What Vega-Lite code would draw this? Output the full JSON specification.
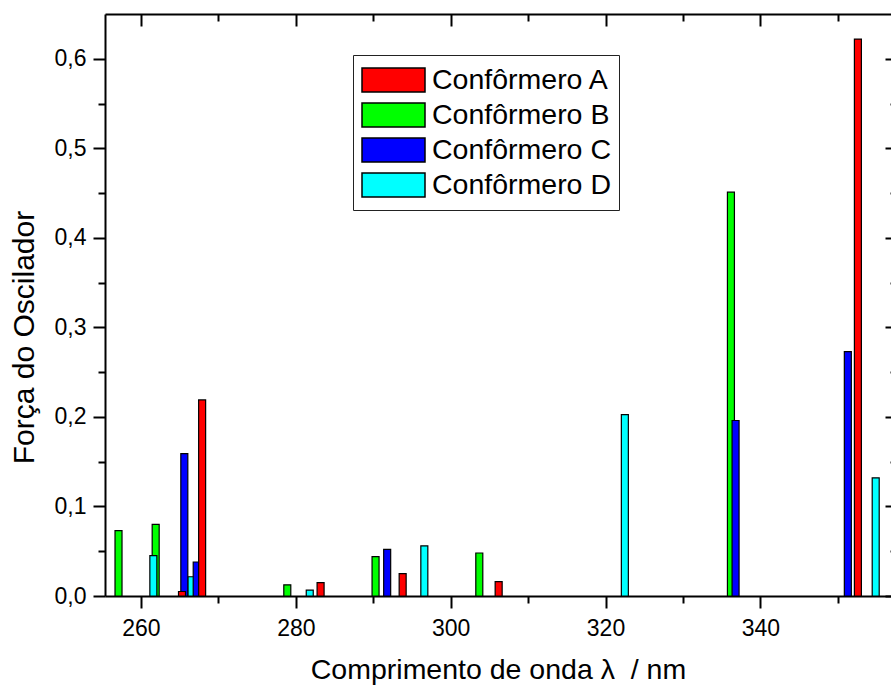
{
  "$schema": "https://vega.github.io/schema/vega-lite/v6.json",
  "autosize": "none",
  "width": 786,
  "height": 582,
  "padding": {"left": 105, "top": 14, "right": 0, "bottom": 90},
  "background": "white",
  "config": {
    "font": "Liberation Sans",
    "view": {"stroke": null},
    "axis": {"grid": false, "domainColor": "black", "domainWidth": 2, "tickColor": "black", "tickWidth": 2, "labelColor": "black", "titleColor": "black", "labelFont": "Liberation Sans", "titleFont": "Liberation Sans", "titleFontWeight": "normal"},
    "legend": {"labelFont": "Liberation Sans"}
  },
  "data": {
    "values": [
      {"conf": "Confôrmero B", "wl": 257.1, "f": 0.073},
      {"conf": "Confôrmero B", "wl": 261.9, "f": 0.080},
      {"conf": "Confôrmero B", "wl": 278.9, "f": 0.0125},
      {"conf": "Confôrmero B", "wl": 290.3, "f": 0.044},
      {"conf": "Confôrmero B", "wl": 303.7, "f": 0.048},
      {"conf": "Confôrmero B", "wl": 336.2, "f": 0.451},
      {"conf": "Confôrmero D", "wl": 261.6, "f": 0.045},
      {"conf": "Confôrmero D", "wl": 266.5, "f": 0.0215},
      {"conf": "Confôrmero D", "wl": 281.8, "f": 0.0065},
      {"conf": "Confôrmero D", "wl": 296.6, "f": 0.056},
      {"conf": "Confôrmero D", "wl": 322.5, "f": 0.2025},
      {"conf": "Confôrmero D", "wl": 354.9, "f": 0.132},
      {"conf": "Confôrmero C", "wl": 265.6, "f": 0.159},
      {"conf": "Confôrmero C", "wl": 267.2, "f": 0.038},
      {"conf": "Confôrmero C", "wl": 291.8, "f": 0.052},
      {"conf": "Confôrmero C", "wl": 336.8, "f": 0.196},
      {"conf": "Confôrmero C", "wl": 351.3, "f": 0.273},
      {"conf": "Confôrmero A", "wl": 265.3, "f": 0.005},
      {"conf": "Confôrmero A", "wl": 267.9, "f": 0.219},
      {"conf": "Confôrmero A", "wl": 283.2, "f": 0.015},
      {"conf": "Confôrmero A", "wl": 293.8, "f": 0.025},
      {"conf": "Confôrmero A", "wl": 306.2, "f": 0.016},
      {"conf": "Confôrmero A", "wl": 352.6, "f": 0.622}
    ]
  },
  "layer": [
    {
      "mark": {"type": "bar", "size": 7, "stroke": "black", "strokeWidth": 1.2, "opacity": 1},
      "encoding": {
        "x": {
          "field": "wl", "type": "quantitative",
          "scale": {"domain": [256, 356.23], "nice": false, "zero": false},
          "axis": {
            "orient": "bottom",
            "title": "Comprimento de onda λ\u00a0 / nm",
            "titleFontSize": 28.5,
            "titlePadding": 15,
            "values": [260, 270, 280, 290, 300, 310, 320, 330, 340, 350],
            "labelExpr": "datum.value % 20 == 0 ? datum.value : ''",
            "labelFontSize": 23,
            "labelPadding": 9,
            "tickSize": {"condition": {"test": "datum.value % 20 == 0", "value": 12}, "value": 7}
          }
        },
        "y": {
          "field": "f", "type": "quantitative", "stack": null,
          "scale": {"domain": [0, 0.65], "nice": false},
          "axis": {
            "orient": "left",
            "title": "Força do Oscilador",
            "titleFontSize": 30,
            "titlePadding": 15,
            "titleY": 323,
            "values": [0, 0.05, 0.1, 0.15, 0.2, 0.25, 0.3, 0.35, 0.4, 0.45, 0.5, 0.55, 0.6],
            "labelExpr": "abs(datum.value*10 - round(datum.value*10)) < 0.001 ? replace(format(datum.value, '.1f'), '.', ',') : ''",
            "labelFontSize": 23,
            "labelPadding": 7,
            "tickSize": {"condition": {"test": "abs(datum.value*10 - round(datum.value*10)) < 0.001", "value": 12}, "value": 7}
          }
        },
        "color": {
          "field": "conf", "type": "nominal",
          "scale": {"domain": ["Confôrmero A", "Confôrmero B", "Confôrmero C", "Confôrmero D"], "range": ["#FF0000", "#00FF00", "#0000FF", "#00FFFF"]},
          "legend": {
            "title": null,
            "orient": "none",
            "legendX": 248,
            "legendY": 41,
            "padding": 8,
            "fillColor": "white",
            "strokeColor": "#222222",
            "symbolType": "M-1,-0.381H1V0.381H-1Z",
            "symbolSize": 3969,
            "symbolStrokeColor": "black",
            "symbolStrokeWidth": 1.5,
            "symbolOpacity": 1,
            "symbolOffset": 0,
            "labelFontSize": 28.5,
            "labelLimit": 400,
            "labelColor": "black",
            "labelOffset": 6,
            "clipHeight": 34,
            "rowPadding": 1
          }
        }
      }
    },
    {
      "mark": {"type": "point", "opacity": 0},
      "encoding": {
        "x": {
          "field": "wl", "type": "quantitative",
          "scale": {"domain": [256, 356.23], "nice": false, "zero": false},
          "axis": {
            "orient": "top", "title": null, "labels": false,
            "values": [260, 270, 280, 290, 300, 310, 320, 330, 340, 350],
            "tickSize": {"condition": {"test": "datum.value % 20 == 0", "value": -12}, "value": -7}
          }
        },
        "y": {
          "field": "f", "type": "quantitative",
          "scale": {"domain": [0, 0.65], "nice": false},
          "axis": {
            "orient": "right", "title": null, "labels": false, "offset": 6,
            "values": [0, 0.05, 0.1, 0.15, 0.2, 0.25, 0.3, 0.35, 0.4, 0.45, 0.5, 0.55, 0.6],
            "tickSize": {"condition": {"test": "abs(datum.value*10 - round(datum.value*10)) < 0.001", "value": -12}, "value": -7}
          }
        }
      }
    }
  ]
}
